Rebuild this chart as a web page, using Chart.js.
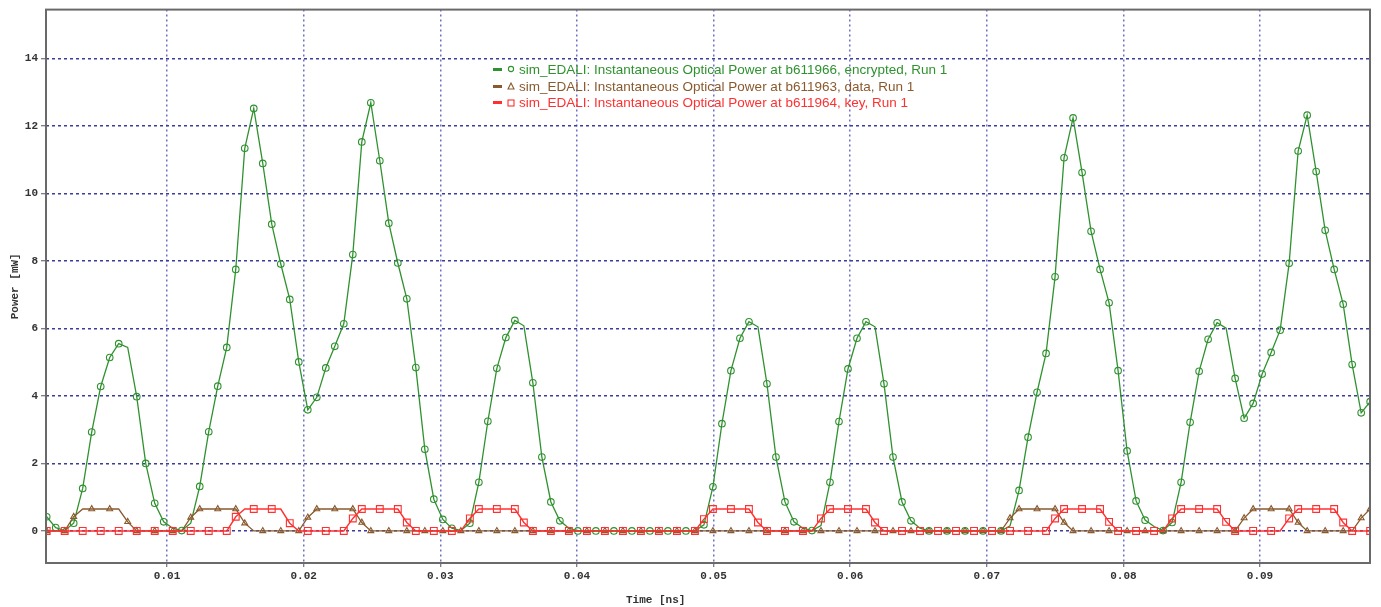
<!DOCTYPE html>
<html><head><meta charset="utf-8">
<script src="https://cdn.jsdelivr.net/npm/chart.js@4.4.1/dist/chart.umd.min.js"></script>
<style>
html,body{margin:0;padding:0;background:#fff;}
#wrap{position:relative;width:1381px;height:607px;}
canvas{display:block;}
#legend{position:absolute;left:493px;top:61px;font-family:"Liberation Sans",Arial,sans-serif;font-size:13.5px;}
.row{display:flex;align-items:center;height:16.8px;white-space:nowrap;}
.dash{width:9px;height:3px;margin-right:5px;}
.row svg{margin-right:4px;}
</style></head>
<body><div id="wrap"><canvas id="c" width="1381" height="607"></canvas><div id="legend"></div></div>
<script>
// ---- data ----
const SAMPLE_START = 0.00119;   // ns, time of first sample
const SAMPLE_STEP = 0.000659;   // ns, sampling interval
const X_MIN = 0.00114, X_MAX = 0.09805;
const Y_MIN = -0.95, Y_MAX = 15.45;
const X_TICKS = [0.01,0.02,0.03,0.04,0.05,0.06,0.07,0.08,0.09];
const Y_TICKS = [0,2,4,6,8,10,12,14];
const X_TITLE = 'Time [ns]';
const Y_TITLE = 'Power [mW]';
const SERIES_NAMES = [
  'sim_EDALI: Instantaneous Optical Power at b611966, encrypted, Run 1',
  'sim_EDALI: Instantaneous Optical Power at b611963, data, Run 1',
  'sim_EDALI: Instantaneous Optical Power at b611964, key, Run 1'
];
const SERIES_COLORS = ['#2f922f', '#8a5a2e', '#ff3030'];
const encrypted = [
  0.42,0.10,0.01,0.23,1.26,2.93,4.28,5.14,5.55,5.44,
  3.98,2.00,0.82,0.27,0.08,0.01,0.23,1.32,2.94,4.29,
  5.44,7.75,11.34,12.52,10.89,9.09,7.91,6.86,5.01,3.59,
  3.96,4.83,5.47,6.14,8.19,11.53,12.69,10.97,9.12,7.94,
  6.88,4.84,2.42,0.94,0.34,0.08,0.01,0.23,1.44,3.25,
  4.82,5.73,6.24,6.08,4.39,2.19,0.86,0.30,0.08,0,
  0,0,0,0,0,0,0,0,0,0,
  0,0,0,0.18,1.31,3.18,4.75,5.71,6.20,6.05,
  4.36,2.19,0.86,0.27,0.08,0.01,0.16,1.44,3.24,4.80,
  5.71,6.20,6.05,4.36,2.19,0.86,0.30,0.08,0,0,
  0,0,0,0,0,0,0,0.15,1.20,2.78,
  4.11,5.26,7.53,11.06,12.24,10.62,8.88,7.75,6.76,4.75,
  2.37,0.89,0.32,0.13,0.01,0.25,1.44,3.22,4.73,5.68,
  6.17,6.01,4.52,3.34,3.78,4.65,5.29,5.95,7.93,11.26,
  12.32,10.65,8.91,7.75,6.72,4.93,3.50,3.83
];
const data = [
  0,0,0,0.42,0.65,0.65,0.65,0.65,0.65,0.27,
  0,0,0,0,0,0,0.40,0.65,0.65,0.65,
  0.65,0.65,0.23,0,0,0,0,0,0,0.40,
  0.65,0.65,0.65,0.65,0.65,0.25,0,0,0,0,
  0,0,0,0,0,0,0,0,0,0,
  0,0,0,0,0,0,0,0,0,0,
  0,0,0,0,0,0,0,0,0,0,
  0,0,0,0,0,0,0,0,0,0,
  0,0,0,0,0,0,0,0,0,0,
  0,0,0,0,0,0,0,0,0,0,
  0,0,0,0,0,0,0,0.38,0.65,0.65,
  0.65,0.65,0.65,0.25,0,0,0,0,0,0,
  0,0,0,0,0,0,0,0,0,0,
  0,0,0,0.38,0.65,0.65,0.65,0.65,0.65,0.25,
  0,0,0,0,0,0,0.38,0.65
];
const key = [
  0,0,0,0,0,0,0,0,0,0,
  0,0,0,0,0,0,0,0,0,0,
  0,0.42,0.65,0.65,0.65,0.65,0.65,0.23,0,0,
  0,0,0,0,0.37,0.65,0.65,0.65,0.65,0.65,
  0.25,0,0,0,0,0,0,0.37,0.65,0.65,
  0.65,0.65,0.65,0.25,0,0,0,0,0,0,
  0,0,0,0,0,0,0,0,0,0,
  0,0,0,0.35,0.65,0.65,0.65,0.65,0.65,0.25,
  0,0,0,0,0,0,0.37,0.65,0.65,0.65,
  0.65,0.65,0.25,0,0,0,0,0,0,0,
  0,0,0,0,0,0,0,0,0,0,
  0,0,0.37,0.65,0.65,0.65,0.65,0.65,0.27,0,
  0,0,0,0,0,0.37,0.65,0.65,0.65,0.65,
  0.65,0.27,0,0,0,0,0,0,0.37,0.65,
  0.65,0.65,0.65,0.65,0.25,0,0,0
];

// ---- build ----
const toPoints = arr => arr.map((v, i) => ({x: SAMPLE_START + i * SAMPLE_STEP, y: v}));
const MIN_MARK_GAP = 12; // px between drawn markers (plot-tool style thinning)
const markFlags = [];
const markerThin = {
  id: 'markerThin',
  afterLayout(chart) {
    const xs = chart.scales.x, ys = chart.scales.y;
    chart.data.datasets.forEach((ds, d) => {
      let lx = null, ly = null;
      markFlags[d] = ds.data.map(p => {
        const px = xs.getPixelForValue(p.x), py = ys.getPixelForValue(p.y);
        if (lx === null || Math.hypot(px - lx, py - ly) >= MIN_MARK_GAP) { lx = px; ly = py; return true; }
        return false;
      });
    });
  }
};
const radiusFor = r => ctx => (markFlags[ctx.datasetIndex] && markFlags[ctx.datasetIndex][ctx.dataIndex]) ? r : 0;
const frame = {
  id: 'frame',
  afterDraw(chart) {
    const {ctx, chartArea: a} = chart;
    ctx.save();
    ctx.strokeStyle = '#6a6a6a';
    ctx.lineWidth = 2;
    ctx.strokeRect(a.left, a.top, a.right - a.left, a.bottom - a.top);
    ctx.font = 'bold 11px "Liberation Mono", monospace';
    ctx.fillStyle = '#333';
    ctx.textAlign = 'center'; ctx.textBaseline = 'middle';
    ctx.fillText(X_TITLE, a.left + (a.right - a.left) * 0.4605, a.bottom + 37);
    ctx.translate(15, (a.top + a.bottom) / 2);
    ctx.rotate(-Math.PI / 2);
    ctx.fillText(Y_TITLE, 0, 0);
    ctx.restore();
  }
};
const tickFont = {family: '"Liberation Mono", monospace', size: 11, weight: 'bold'};
new Chart(document.getElementById('c'), {
  type: 'line',
  data: {
    datasets: [
      {label: SERIES_NAMES[0], data: toPoints(encrypted), borderColor: SERIES_COLORS[0], borderWidth: 1.3,
       pointStyle: 'circle', pointRadius: radiusFor(3.3), pointBorderColor: SERIES_COLORS[0], pointBackgroundColor: 'rgba(0,0,0,0)', pointBorderWidth: 1.1, order: 3},
      {label: SERIES_NAMES[1], data: toPoints(data), borderColor: SERIES_COLORS[1], borderWidth: 1.3,
       pointStyle: 'triangle', pointRadius: radiusFor(3.4), pointBorderColor: SERIES_COLORS[1], pointBackgroundColor: 'rgba(0,0,0,0)', pointBorderWidth: 1.1, order: 2},
      {label: SERIES_NAMES[2], data: toPoints(key), borderColor: SERIES_COLORS[2], borderWidth: 1.4,
       pointStyle: 'rect', pointRadius: radiusFor(4.8), pointBorderColor: SERIES_COLORS[2], pointBackgroundColor: 'rgba(255,255,255,0)', pointBorderWidth: 1.1, order: 1}
    ]
  },
  options: {
    responsive: false, animation: false, devicePixelRatio: 1,
    layout: {padding: {left: 0, top: 8, right: 11, bottom: 0}},
    plugins: {legend: {display: false}, tooltip: {enabled: false}},
    elements: {line: {tension: 0}},
    scales: {
      x: {
        type: 'linear', min: X_MIN, max: X_MAX,
        afterBuildTicks: ax => { ax.ticks = X_TICKS.map(v => ({value: v})); },
        afterFit: ax => { ax.height = 44; },
        ticks: {font: tickFont, color: '#333', padding: 3, maxRotation: 0, autoSkip: false, callback: v => v.toFixed(2)},
        grid: {color: '#6e6ec8', lineWidth: 1.5, tickLength: 4, tickColor: '#555', tickWidth: 1},
        border: {display: false, dash: [2, 3]}
      },
      y: {
        type: 'linear', min: Y_MIN, max: Y_MAX,
        afterBuildTicks: ax => { ax.ticks = Y_TICKS.map(v => ({value: v})); },
        afterFit: ax => { ax.width = 46; },
        ticks: {font: tickFont, color: '#333', padding: 3, autoSkip: false, callback: v => String(v)},
        grid: {color: '#3c3c9c', lineWidth: 1.5, tickLength: 5, tickColor: '#555', tickWidth: 1},
        border: {display: false, dash: [3, 3]}
      }
    }
  },
  plugins: [markerThin, frame]
});

// ---- legend (HTML text) ----
const icons = [
  c => `<svg width="8" height="8"><circle cx="4" cy="4" r="2.6" fill="none" stroke="${c}" stroke-width="1.1"/></svg>`,
  c => `<svg width="8" height="8"><polygon points="4,1 7,7 1,7" fill="none" stroke="${c}" stroke-width="1.1"/></svg>`,
  c => `<svg width="8" height="8"><rect x="1" y="1" width="6" height="6" fill="none" stroke="${c}" stroke-width="1.1"/></svg>`
];
document.getElementById('legend').innerHTML = SERIES_NAMES.map((n, i) =>
  `<div class="row"><span class="dash" style="background:${SERIES_COLORS[i]}"></span>${icons[i](SERIES_COLORS[i])}<span style="color:${SERIES_COLORS[i]}">${n}</span></div>`
).join('');
</script></body></html>
